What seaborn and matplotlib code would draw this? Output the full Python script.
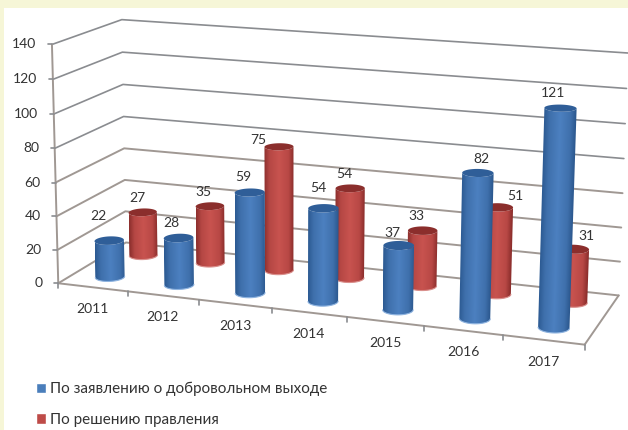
import numpy as np
import pandas as pd
import seaborn as sns
import matplotlib

matplotlib.use("Agg")
import matplotlib.pyplot as plt
import matplotlib.patches as mpatches

years = ["2011", "2012", "2013", "2014", "2015", "2016", "2017"]
voluntary = [22, 28, 59, 54, 37, 82, 121]
board = [27, 35, 75, 54, 33, 51, 31]
value_ticks = [0, 20, 40, 60, 80, 100, 120, 140]
series_names = ["По заявлению о добровольном выходе", "По решению правления"]

# label shift from the top of each cylinder, pixels
voluntary_shift = [(-11, -25), (-7, -15), (-6, -15), (-5, -20), (-6, -12), (4, -14), (-7, -15)]
board_shift = [(-5, -14), (-6, -14), (-21, -7), (-6, -14), (-6, -15), (17, -11), (13, -13)]

# camera calibration: chart space (category, depth, value) -> picture pixels
world_pts = np.array([
    [0, 0, 0], [7, 0, 0], [0, 1, 0], [7, 1, 0], [0, 0, 140], [0, 1, 140], [7, 1, 140],
    [1, 0, 0], [2, 0, 0], [3, 0, 0], [4, 0, 0], [5, 0, 0], [6, 0, 0],
    [0, 1, 60], [7, 1, 60], [0, 0, 60],
], dtype=float)
pixel_pts = np.array([
    [60, 283], [585, 344], [124, 244], [619, 295], [50, 45], [124, 20], [628, 53],
    [128, 291], [199, 299], [272, 308], [347, 317], [423, 327], [503, 336],
    [124, 147], [622, 193], [55, 182],
], dtype=float)


def fit_camera(world, pix):
    rows = []
    rhs = []
    for (a, b, c), (x, y) in zip(world, pix):
        rows.append([a, b, c, 1, 0, 0, 0, 0, -x * a, -x * b, -x * c])
        rows.append([0, 0, 0, 0, a, b, c, 1, -y * a, -y * b, -y * c])
        rhs += [x, y]
    sol = np.linalg.lstsq(np.array(rows), np.array(rhs), rcond=None)[0]
    return np.append(sol, 1).reshape(3, 4)


cam = fit_camera(world_pts, pixel_pts)


def project(u, z, v):
    u, z, v = np.broadcast_arrays(u, z, v)
    p = cam @ np.vstack([u.ravel(), z.ravel(), v.ravel(), np.ones(u.size)])
    return p[0] / p[2], p[1] / p[2]


def shade(frac, stops):
    pos = [0, 0.18, 0.5, 0.82, 1]
    rgb = np.array([matplotlib.colors.to_rgb(c) for c in stops])
    return np.stack([np.interp(frac, pos, rgb[:, i]) for i in range(3)], axis=-1)


def near_arc(x, y):
    # lower half of a projected circle, sorted left to right
    left, right = np.argmin(x), np.argmax(x)
    n = len(x)
    one = (left + np.arange(((right - left) % n) + 1)) % n
    two = (left - np.arange(((left - right) % n) + 1)) % n
    arc = one if y[one].mean() > y[two].mean() else two
    return x[arc], y[arc]


def cylinder(ax, u, z, value, stops, cap, rim, order):
    t = np.linspace(0, 2 * np.pi, 145)[:-1]
    cu = u + 0.19 * np.cos(t)
    cz = z + 0.10 * np.sin(t)
    bx, by = near_arc(*project(cu, cz, 0))
    tx, ty = project(cu, cz, value)
    ux, uy = near_arc(tx, ty)

    # gradient across the leaning body, clipped to its outline
    x0, x1 = min(bx.min(), ux.min()), max(bx.max(), ux.max())
    y0, y1 = uy.min() - 1, by.max() + 1
    gx, gy = np.meshgrid(np.linspace(x0, x1, 160), np.linspace(y0, y1, 160))
    h = (gy - uy[0]) / (by[0] - uy[0])
    lx = ux[0] + h * (bx[0] - ux[0])
    rx = ux[-1] + h * (bx[-1] - ux[-1])
    img = shade(np.clip((gx - lx) / (rx - lx), 0, 1), stops)
    im = ax.imshow(img, extent=(x0, x1, y1, y0), origin="upper", aspect="auto",
                   interpolation="bilinear", zorder=order)
    outline = np.column_stack([np.r_[bx, ux[::-1]], np.r_[by, uy[::-1]]])
    im.set_clip_path(mpatches.Polygon(outline, transform=ax.transData))

    ax.plot(bx, by, color=rim, lw=0.8, zorder=order + 0.05, solid_capstyle="round")
    ax.fill(tx, ty, color=cap, lw=0, zorder=order + 0.1, snap=False)
    return project(u, z, value)


def wall_lines():
    rows = []
    for v in value_ticks:
        xs, ys = project(np.array([0, 0, 7]), np.array([0, 1, 1]), v)
        rows += [(f"v{v}", x, y, v) for x, y in zip(xs, ys)]
    for name, pts in {
        "left": ([0, 0], [0, 0], [0, 140]),
        "front": ([0, 7], [0, 0], [0, 0]),
        "right": ([7, 7], [0, 1], [0, 0]),
    }.items():
        xs, ys = project(np.array(pts[0]), np.array(pts[1]), np.array(pts[2]))
        rows += [(name, x, y, 0) for x, y in zip(xs, ys)]
    return pd.DataFrame(rows, columns=["line", "px", "py", "value"])


sns.set_theme(style="white")
plt.rcParams["font.family"] = ["Lato", "Noto Sans", "DejaVu Sans"]

text_col = "#333333"
blue_stops = ["#2C5A92", "#3F70AC", "#4C80C0", "#3F70AC", "#2A568C"]
red_stops = ["#8C2F2D", "#B54744", "#C8534F", "#B84845", "#8A2D2B"]

fig = plt.figure(figsize=(6.28, 4.3), dpi=100, facecolor="#F6F6D7")
ax = fig.add_axes([0, 0, 1, 1])
ax.add_patch(mpatches.Rectangle((4, 8), 624, 422, facecolor="white", edgecolor="none", zorder=0))

grid = wall_lines()
sns.lineplot(data=grid[grid["value"] >= 80], x="px", y="py", units="line", estimator=None,
             sort=False, color="#8A8C90", lw=1.2, ax=ax, legend=False)
sns.lineplot(data=grid[grid["value"] < 80], x="px", y="py", units="line", estimator=None,
             sort=False, color="#A09893", lw=1.4, ax=ax, legend=False)

# value axis ticks and labels
for v in value_ticks:
    x, y = project(0, 0, v)
    ax.plot([x[0] - 4, x[0]], [y[0], y[0]], color="#8A8C90", lw=1.2)
    ax.text(x[0] - 15.5, y[0], str(v), ha="right", va="center", fontsize=10, color=text_col)

# category ticks and labels
for i in range(len(years) + 1):
    x, y = project(i, 0, 0)
    ax.plot([x[0], x[0]], [y[0], y[0] + 5], color="#8A8C90", lw=1.2)
for i, year in enumerate(years):
    x, y = project(i + 0.5, 0, 0)
    ax.text(x[0], y[0] + 22, year, ha="center", va="center", fontsize=10, color=text_col)

# back row first, then the front row over it
for i, val in enumerate(board):
    x, y = cylinder(ax, i + 0.5, 0.76, val, red_stops, "#8B2E2C", "#D98F8C", 3)
    ax.text(x[0] + board_shift[i][0], y[0] + board_shift[i][1], str(val), ha="center", va="center",
            fontsize=10, color=text_col, zorder=8)
for i, val in enumerate(voluntary):
    x, y = cylinder(ax, i + 0.51, 0.24, val, blue_stops, "#2F5E98", "#8FB4E0", 5)
    ax.text(x[0] + voluntary_shift[i][0], y[0] + voluntary_shift[i][1], str(val), ha="center", va="center",
            fontsize=10, color=text_col, zorder=8)

handles = [
    mpatches.Patch(facecolor="#4A7EBB", label=series_names[0]),
    mpatches.Patch(facecolor="#BE4B48", label=series_names[1]),
]
ax.legend(handles=handles, loc="upper left", bbox_to_anchor=(36, 382), bbox_transform=ax.transData,
          frameon=False, fontsize=11, labelcolor=text_col, borderpad=0, borderaxespad=0,
          handlelength=0.65, handleheight=0.65, handletextpad=0.26, labelspacing=1.08)

ax.set_xlim(0, 628)
ax.set_ylim(430, 0)
ax.set_axis_off()
fig.savefig("out.png", dpi=100, facecolor=fig.get_facecolor())
